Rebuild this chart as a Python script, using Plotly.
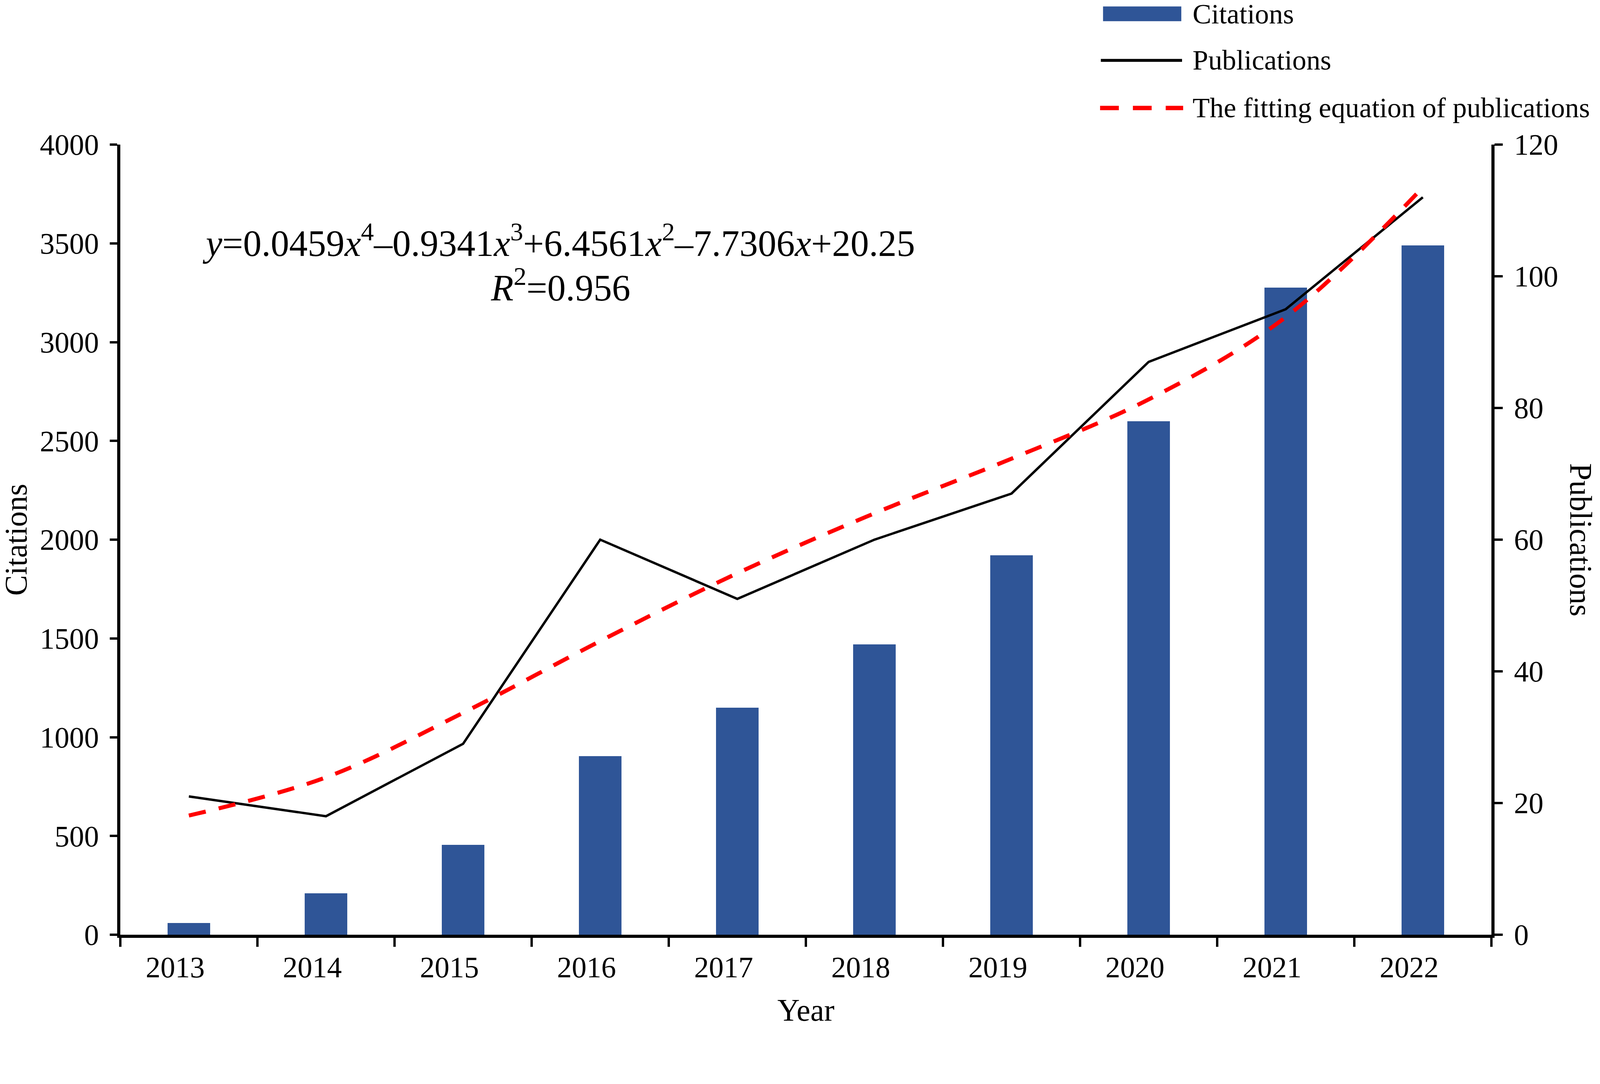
import plotly.graph_objects as go

# data
years = ["2013", "2014", "2015", "2016", "2017", "2018", "2019", "2020", "2021", "2022"]
citations = [60, 210, 455, 905, 1150, 1470, 1920, 2600, 3275, 3490]
publications = [21, 18, 29, 60, 51, 60, 67, 87, 95, 112]
fitted_publications = [18.1, 23.9, 33.7, 44.6, 54.9, 64.0, 72.3, 81.3, 93.8, 113.5]

equation_text = ("<i>y</i>=0.0459<i>x</i><sup>4</sup>–0.9341<i>x</i><sup>3</sup>"
                 "+6.4561<i>x</i><sup>2</sup>–7.7306<i>x</i>+20.25")
r2_text = "<i>R</i><sup>2</sup>=0.956"

# all positions below are in reference-image pixels (4328 x 2774);
# K maps them onto the page's css pixels, the body keeps its 8px margin
K = 0.945
REF_W, REF_H = 4328, 2774
W = round(REF_W * K) - 16
H = round(REF_H * K) + 40
FONT = "Liberation Serif"
BAR_BLUE = "#2F5597"


def cx(px):
    return px * K - 8


def cy(py):
    return py * K - 8


PLOT_L, PLOT_R, PLOT_T, PLOT_B = cx(326), cx(4040), cy(392), cy(2531)
PW, PH = PLOT_R - PLOT_L, PLOT_B - PLOT_T


def px_x(px):
    return (cx(px) - PLOT_L) / PW


def px_y(py):
    return (PLOT_B - cy(py)) / PH


def fs(size):
    return size * K


fig = go.Figure()

fig.add_trace(go.Bar(
    x=years, y=citations, name="Citations",
    marker=dict(color=BAR_BLUE, line=dict(width=0)),
    width=0.31, showlegend=False,
))

fig.add_trace(go.Scatter(
    x=years, y=publications, name="Publications", yaxis="y2",
    mode="lines", line=dict(color="black", width=6.5 * K),
    showlegend=False,
))

fig.add_trace(go.Scatter(
    x=years, y=fitted_publications, name="The fitting equation of publications",
    yaxis="y2", mode="lines",
    line=dict(color="#FF0000", width=11 * K, dash="44px,34px", shape="spline"),
    showlegend=False,
))

axis_common = dict(
    showline=True, linecolor="black", linewidth=8 * K,
    ticks="outside", tickcolor="black", tickwidth=6 * K,
    showgrid=False, zeroline=False,
    tickfont=dict(family=FONT, size=fs(80), color="black"),
)

fig.update_layout(
    width=W, height=H,
    margin=dict(l=PLOT_L, r=W - PLOT_R, t=PLOT_T, b=H - PLOT_B, pad=0),
    paper_bgcolor="white", plot_bgcolor="white",
    font=dict(family=FONT, color="black"),
    bargap=0,
    xaxis=dict(type="category", tickson="boundaries", ticklen=25 * K,
               ticklabelstandoff=10, ticklabelshift=round(-37 * K),
               **axis_common),
    yaxis=dict(range=[0, 4000], dtick=500, ticklen=20 * K,
               ticklabelstandoff=13, **axis_common),
    yaxis2=dict(range=[0, 120], dtick=20, ticklen=22 * K, overlaying="y",
                side="right", ticklabelstandoff=14, **axis_common),
)

# the titles sit close to the page edges, so their text boxes are kept tight
annotations = [
    dict(text="Citations", x=px_x(44), y=0.5, textangle=-90,
         height=64, font=dict(size=fs(84))),
    dict(text="Publications", x=px_x(4282), y=0.5, textangle=90,
         height=64, font=dict(size=fs(84))),
    dict(text="Year", x=0.5, y=px_y(2735), font=dict(size=fs(84))),
    dict(text=equation_text, x=px_x(1514), y=px_y(652), font=dict(size=fs(100))),
    dict(text=r2_text, x=px_x(1518), y=px_y(772), font=dict(size=fs(100))),
]

# legend drawn by hand at the top right
legend_rows = [("Citations", 39, 54), ("Publications", 164, None),
               ("The fitting equation of publications", 293, None)]
for label, ly, box_h in legend_rows:
    entry = dict(text=label, x=px_x(3228), y=px_y(ly),
                 xanchor="left", font=dict(size=fs(76)))
    if box_h:
        entry["height"] = box_h
    annotations.append(entry)

for a in annotations:
    a.setdefault("xanchor", "center")
    a.update(xref="paper", yref="paper", yanchor="middle", showarrow=False)
fig.update_layout(annotations=annotations)

shapes = [
    dict(type="rect", x0=px_x(2988), x1=px_x(3200), y0=px_y(18), y1=px_y(58),
         fillcolor=BAR_BLUE, line=dict(width=0)),
    dict(type="line", x0=px_x(2982), x1=px_x(3202), y0=px_y(164), y1=px_y(164),
         line=dict(color="black", width=8 * K)),
    dict(type="line", x0=px_x(2980), x1=px_x(3205), y0=px_y(293), y1=px_y(293),
         line=dict(color="#FF0000", width=12 * K, dash="48px,36px")),
]
for s in shapes:
    s.update(xref="paper", yref="paper")
fig.update_layout(shapes=shapes)

fig.write_html("out.html")
